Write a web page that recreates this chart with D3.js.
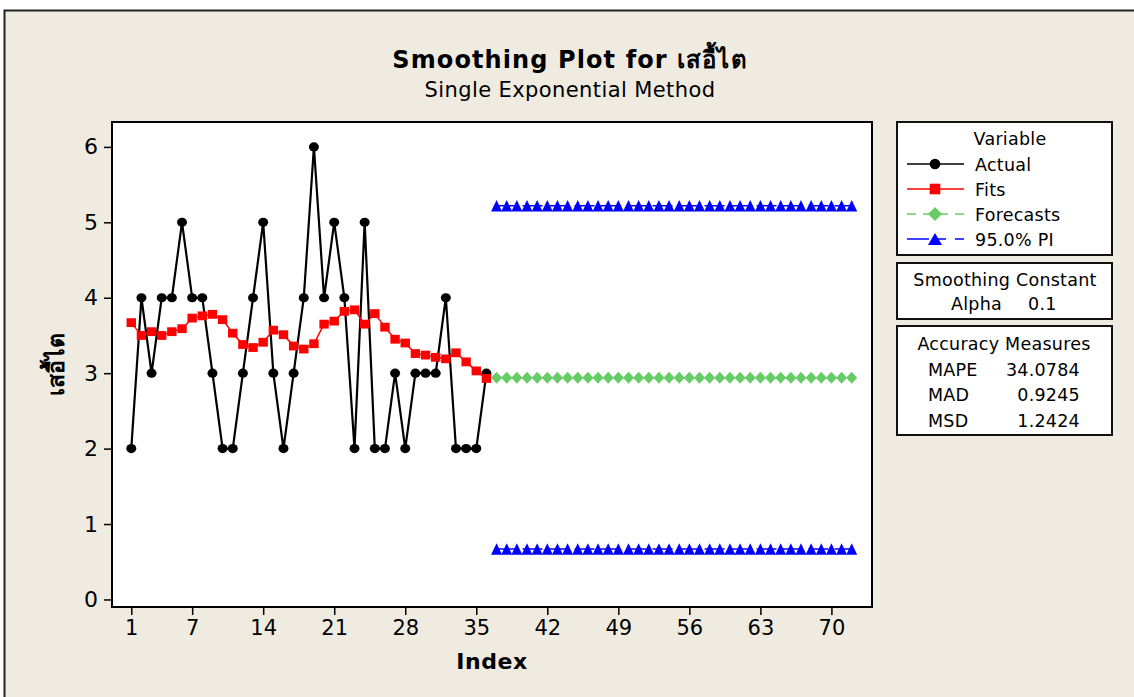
<!DOCTYPE html>
<html>
<head>
<meta charset="utf-8">
<script src="https://cdn.jsdelivr.net/npm/d3@7"></script>
<style>
  html, body { margin: 0; padding: 0; background: #ffffff; }
  svg { display: block; }
  text { font-family: "DejaVu Sans", Verdana, sans-serif; }
</style>
</head>
<body>
<svg id="chart" width="1134" height="697"></svg>
<script>
// ---------------- data ----------------
const varName = "เสอื้ไต";
const actualIndex = [1,2,3,4,5,6,7,8,9,10,11,12,13,14,15,16,17,18,19,20,21,22,23,24,25,26,27,28,29,30,31,32,33,34,35,36];
const actualValues = [2,4,3,4,4,5,4,4,3,2,2,3,4,5,3,2,3,4,6,4,5,4,2,5,2,2,3,2,3,3,3,4,2,2,2,3];
const fitValues = [3.67,3.50,3.55,3.50,3.55,3.59,3.73,3.76,3.78,3.71,3.53,3.38,3.34,3.41,3.57,3.51,3.36,3.32,3.39,3.65,3.69,3.82,3.84,3.65,3.79,3.61,3.45,3.40,3.26,3.24,3.21,3.19,3.27,3.15,3.03,2.93];
const forecastIndex = [37,38,39,40,41,42,43,44,45,46,47,48,49,50,51,52,53,54,55,56,57,58,59,60,61,62,63,64,65,66,67,68,69,70,71,72];
const forecastValues = [2.94,2.94,2.94,2.94,2.94,2.94,2.94,2.94,2.94,2.94,2.94,2.94,2.94,2.94,2.94,2.94,2.94,2.94,2.94,2.94,2.94,2.94,2.94,2.94,2.94,2.94,2.94,2.94,2.94,2.94,2.94,2.94,2.94,2.94,2.94,2.94];
const upperPI = [5.22,5.22,5.22,5.22,5.22,5.22,5.22,5.22,5.22,5.22,5.22,5.22,5.22,5.22,5.22,5.22,5.22,5.22,5.22,5.22,5.22,5.22,5.22,5.22,5.22,5.22,5.22,5.22,5.22,5.22,5.22,5.22,5.22,5.22,5.22,5.22];
const lowerPI = [0.67,0.67,0.67,0.67,0.67,0.67,0.67,0.67,0.67,0.67,0.67,0.67,0.67,0.67,0.67,0.67,0.67,0.67,0.67,0.67,0.67,0.67,0.67,0.67,0.67,0.67,0.67,0.67,0.67,0.67,0.67,0.67,0.67,0.67,0.67,0.67];
const xTicks = [1,7,14,21,28,35,42,49,56,63,70];
const yTicks = [0,1,2,3,4,5,6];
const legendLabels = ["Actual","Fits","Forecasts","95.0% PI"];
const alphaValue = "0.1";
const accuracyNames = ["MAPE","MAD","MSD"];
const accuracyValues = ["34.0784","0.9245","1.2424"];

// ---------------- layout ----------------
const svg = d3.select("#chart");
const bg = "#EFEBE1";
const plot = {left: 112, right: 872, top: 122, bottom: 607};

svg.append("rect").attr("x", 4.5).attr("y", 10.5).attr("width", 1140).attr("height", 700)
  .attr("fill", bg).attr("stroke", "#222").attr("stroke-width", 2);

const x = d3.scaleLinear().domain([-0.9, 74]).range([plot.left, plot.right]);
const y = d3.scaleLinear().domain([-0.1, 6.33]).range([plot.bottom, plot.top]);

svg.append("rect").attr("x", plot.left).attr("y", plot.top)
  .attr("width", plot.right - plot.left).attr("height", plot.bottom - plot.top)
  .attr("fill", "#ffffff");

// axes
const yAxis = d3.axisLeft(y).tickValues(yTicks).tickSize(7).tickPadding(6).tickFormat(d3.format("d"));
const gy = svg.append("g").attr("transform", `translate(${plot.left - 1},0)`).call(yAxis);
gy.select(".domain").remove();
gy.selectAll("line").attr("stroke", "#000").attr("stroke-width", 1.5);
gy.selectAll("text").attr("font-size", 22).attr("fill", "#000");

const xAxis = d3.axisBottom(x).tickValues(xTicks).tickSize(7).tickPadding(5).tickFormat(d3.format("d"));
const gx = svg.append("g").attr("transform", `translate(0,${plot.bottom + 1})`).call(xAxis);
gx.select(".domain").remove();
gx.selectAll("line").attr("stroke", "#000").attr("stroke-width", 1.5);
gx.selectAll("text").attr("font-size", 21).attr("fill", "#000");

// ---------------- series ----------------
const diamondPath = (w, h) => `M0,${-h/2}L${w/2},0L0,${h/2}L${-w/2},0Z`;
const trianglePath = (w, h) => `M0,${-h/2}L${w/2},${h/2}L${-w/2},${h/2}Z`;

const actual = actualIndex.map((d, i) => ({i: d, v: actualValues[i]}));
const fits = actualIndex.map((d, i) => ({i: d, v: fitValues[i]}));
const fc = forecastIndex.map((d, i) => ({i: d, v: forecastValues[i]}));
const up = forecastIndex.map((d, i) => ({i: d, v: upperPI[i]}));
const lo = forecastIndex.map((d, i) => ({i: d, v: lowerPI[i]}));
const line = d3.line().x(d => x(d.i)).y(d => y(d.v));

// actual
svg.append("path").datum(actual).attr("d", line).attr("fill", "none")
  .attr("stroke", "#000").attr("stroke-width", 2.2);
svg.append("g").selectAll("ellipse").data(actual).join("ellipse")
  .attr("cx", d => x(d.i)).attr("cy", d => y(d.v)).attr("rx", 5).attr("ry", 4.6).attr("fill", "#000");

// fits
svg.append("path").datum(fits).attr("d", line).attr("fill", "none")
  .attr("stroke", "#ff0000").attr("stroke-width", 1.5);
svg.append("g").selectAll("rect").data(fits).join("rect")
  .attr("x", d => x(d.i) - 4.7).attr("y", d => y(d.v) - 4.4).attr("width", 9.4).attr("height", 8.8)
  .attr("fill", "#ff0000");

// forecasts
svg.append("path").datum(fc).attr("d", line).attr("fill", "none")
  .attr("stroke", "#66CC66").attr("stroke-width", 1.5).attr("stroke-dasharray", "8,5");
svg.append("g").selectAll("path").data(fc).join("path")
  .attr("transform", d => `translate(${x(d.i)},${y(d.v)})`).attr("d", diamondPath(11, 12))
  .attr("fill", "#66CC66");

// PI
[up, lo].forEach(s => {
  svg.append("path").datum(s).attr("d", line).attr("fill", "none")
    .attr("stroke", "#0000ff").attr("stroke-width", 1.5).attr("stroke-dasharray", "20,6");
  svg.append("g").selectAll("path").data(s).join("path")
    .attr("transform", d => `translate(${x(d.i)},${y(d.v)})`).attr("d", trianglePath(11, 11.5))
    .attr("fill", "#0000ff");
});

// plot frame
svg.append("rect").attr("x", plot.left).attr("y", plot.top)
  .attr("width", plot.right - plot.left).attr("height", plot.bottom - plot.top)
  .attr("fill", "none").attr("stroke", "#000").attr("stroke-width", 2);

// ---------------- titles ----------------
svg.append("text").attr("x", 570).attr("y", 68).attr("text-anchor", "middle")
  .attr("font-size", 24).attr("font-weight", "bold").attr("letter-spacing", 1.1)
  .text("Smoothing Plot for " + varName);
svg.append("text").attr("x", 570).attr("y", 97).attr("text-anchor", "middle")
  .attr("font-size", 21).attr("letter-spacing", 0.4).text("Single Exponential Method");
svg.append("text").attr("x", (plot.left + plot.right) / 2).attr("y", 669).attr("text-anchor", "middle")
  .attr("font-size", 22).attr("font-weight", "bold").attr("letter-spacing", 0.6).text("Index");
svg.append("text").attr("transform", `translate(64,${(plot.top + plot.bottom) / 2}) rotate(-90)`)
  .attr("text-anchor", "middle").attr("font-size", 23).attr("font-weight", "bold").text(varName);

// ---------------- legend boxes ----------------
const boxX = 897, boxW = 215;
const boxes = [[122, 255], [263, 319], [326, 435]];
boxes.forEach(([t, b]) => {
  svg.append("rect").attr("x", boxX).attr("y", t).attr("width", boxW).attr("height", b - t)
    .attr("fill", "#ffffff").attr("stroke", "#111").attr("stroke-width", 2);
});
const fs = 17.5;
const ls = 0.25;
const txt = (xx, yy, s, anchor) => svg.append("text").attr("x", xx).attr("y", yy)
  .attr("text-anchor", anchor || "start").attr("font-size", fs).attr("letter-spacing", ls).text(s);

txt(1010, 145, "Variable", "middle");

const legRows = [
  {label: legendLabels[0], cy: 164, color: "#000", dash: null, shape: "circle"},
  {label: legendLabels[1], cy: 189, color: "#ff0000", dash: null, shape: "square"},
  {label: legendLabels[2], cy: 214, color: "#66CC66", dash: "9,7", shape: "diamond"},
  {label: legendLabels[3], cy: 239, color: "#0000ff", dash: "22,9,8,9", shape: "triangle"}
];
legRows.forEach(r => {
  const l = svg.append("line").attr("x1", 907).attr("x2", 964).attr("y1", r.cy).attr("y2", r.cy)
    .attr("stroke", r.color).attr("stroke-width", 1.6);
  if (r.dash) l.attr("stroke-dasharray", r.dash);
  const cx = 935;
  if (r.shape === "circle") svg.append("circle").attr("cx", cx).attr("cy", r.cy).attr("r", 5.3).attr("fill", r.color);
  if (r.shape === "square") svg.append("rect").attr("x", cx - 5.3).attr("y", r.cy - 5.3).attr("width", 10.6).attr("height", 10.6).attr("fill", r.color);
  if (r.shape === "diamond") svg.append("path").attr("transform", `translate(${cx},${r.cy})`).attr("d", diamondPath(14, 14)).attr("fill", r.color);
  if (r.shape === "triangle") svg.append("path").attr("transform", `translate(${cx},${r.cy})`).attr("d", trianglePath(14, 12)).attr("fill", r.color);
  txt(975, r.cy + 6.5, r.label);
});

txt(1005, 286, "Smoothing Constant", "middle");
txt(951, 310, "Alpha");
txt(1028, 310, alphaValue);

txt(1004, 350, "Accuracy Measures", "middle");
accuracyNames.forEach((n, i) => {
  const yy = 375.5 + i * 25.6;
  txt(928, yy, n);
  txt(1080, yy, accuracyValues[i], "end");
});
</script>
</body>
</html>
